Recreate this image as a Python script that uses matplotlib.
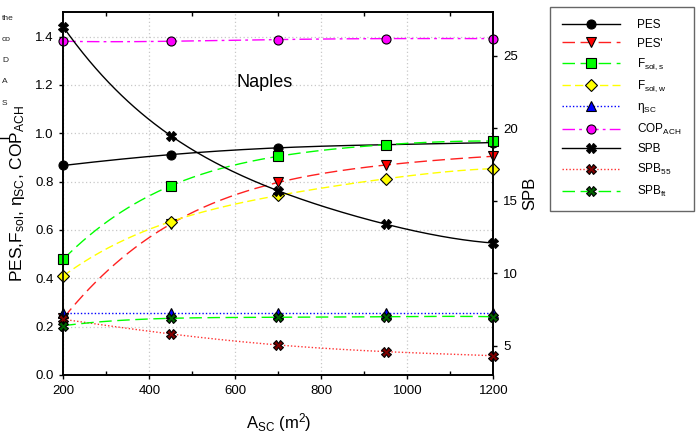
import numpy as np
import matplotlib
matplotlib.use('Agg')
import matplotlib.pyplot as plt
from matplotlib.lines import Line2D
from matplotlib.ticker import MultipleLocator

plt.rcParams['font.family'] = ['Liberation Sans', 'DejaVu Sans']
plt.rcParams['mathtext.fontset'] = 'custom'
plt.rcParams['mathtext.rm'] = 'Liberation Sans'
plt.rcParams['mathtext.it'] = 'Liberation Sans:italic'

# collector area (m2)
a_sc = np.array([200, 450, 700, 950, 1200])

# left axis series
pes = [0.867, 0.912, 0.940, 0.953, 0.962]
pes_p = [0.235, 0.625, 0.797, 0.869, 0.905]
fsol_s = [0.479, 0.783, 0.905, 0.953, 0.968]
fsol_w = [0.410, 0.635, 0.743, 0.812, 0.854]
eta_sc = [0.257, 0.257, 0.257, 0.257, 0.257]
cop_ach = [1.381, 1.381, 1.388, 1.392, 1.392]

# right axis series (years)
spb = [27.0, 19.5, 15.7, 13.4, 12.1]
spb55 = [6.84, 5.83, 5.07, 4.61, 4.33]
spbft = [6.40, 6.91, 6.98, 7.02, 7.02]

labels = ['PES', "PES'", r'F$_{\rm sol,s}$', r'F$_{\rm sol,w}$', r'η$_{\rm SC}$',
          r'COP$_{\rm ACH}$', 'SPB', r'SPB$_{55}$', r'SPB$_{\rm ft}$']

# bits of the neighbouring panel's legend, cut by the left edge
edge_bits = ['the', 'co', 'D', 'A', 'S']


def smooth(x, y):
    # smooth line through the points, only for drawing
    p = np.polynomial.Polynomial.fit(x, y, len(x) - 1)
    xs = np.linspace(x[0], x[-1], 200)
    return xs, p(xs)


fig = plt.figure(figsize=(6.99, 4.37), dpi=100)
ax = fig.add_axes([0.0906, 0.1419, 0.6151, 0.8295])
ax2 = ax.twinx()

styles = [
    (ax, pes, '-', 'black', 'o', 'black', 'black'),
    (ax, pes_p, (0, (9, 4)), '#ff2020', 'v', '#ff0000', 'black'),
    (ax, fsol_s, (0, (9, 4)), '#00ff00', 's', '#00ff00', 'black'),
    (ax, fsol_w, (0, (6, 3)), '#ffff00', 'D', '#ffff00', 'black'),
    (ax, eta_sc, (0, (1, 1.5)), '#0000ff', '^', '#0000ff', 'black'),
    (ax, cop_ach, (0, (9, 3, 2, 3)), '#ff00ff', 'o', '#ff00ff', 'black'),
    (ax2, spb, '-', 'black', 'X', 'black', 'black'),
    (ax2, spb55, (0, (1, 1.5)), '#ff3030', 'X', '#800000', 'black'),
    (ax2, spbft, (0, (9, 4)), '#00ff00', 'X', '#006400', 'black'),
]

handles = []
for (a, ys, ls, col, mk, mfc, mec), lab in zip(styles, labels):
    xs, yy = smooth(a_sc, ys)
    a.plot(xs, yy, linestyle=ls, color=col, lw=1.0, zorder=2)
    ms = 6.5 if mk != 'X' else 7
    a.plot(a_sc, ys, linestyle='none', marker=mk, ms=ms, mfc=mfc, mec=mec,
           mew=0.8, zorder=3, clip_on=False)
    handles.append(Line2D([], [], linestyle=ls, color=col, lw=1.0, marker=mk,
                          ms=ms, mfc=mfc, mec=mec, mew=0.8))

ax.set_xlim(200, 1200)
ax.set_ylim(0, 1.5)
ax2.set_ylim(3, 28)

ax.xaxis.set_major_locator(MultipleLocator(200))
ax.xaxis.set_minor_locator(MultipleLocator(100))
ax.set_yticks(np.arange(0, 1.41, 0.2))
ax.set_yticklabels(['%.1f' % v for v in np.arange(0, 1.41, 0.2)])
ax2.set_yticks([5, 10, 15, 20, 25])

ax.grid(True, which='major', color='#c8c8c8', linestyle=(0, (1, 2)), lw=0.9)
ax.tick_params(which='major', direction='out', length=3, width=1, labelsize=9.5, pad=4)
ax.tick_params(which='minor', axis='x', direction='in', length=3, width=1, top=True)
ax.tick_params(which='minor', axis='y', left=False)
ax2.tick_params(direction='out', length=3, width=1, labelsize=9.5, pad=4)

for s in list(ax.spines.values()) + list(ax2.spines.values()):
    s.set_linewidth(1.2)

ax.set_xlabel(r'A$_{\rm SC}$ (m$^2$)', fontsize=12, labelpad=10)
ax.set_ylabel(r'PES,F$_{\rm sol}$, η$_{\rm SC}$, COP$_{\rm ACH}$', fontsize=12.5, labelpad=6)
ax2.set_ylabel('SPB', fontsize=12, labelpad=3)

ax.text(669, 1.21, 'Naples', fontsize=13, ha='center', va='center')

leg = fig.legend(handles, labels, loc='upper left', bbox_to_anchor=(0.787, 0.984),
                 frameon=True, fancybox=False, fontsize=8.5, handlelength=4.9,
                 labelspacing=0.57, borderpad=1.0, handletextpad=1.5, borderaxespad=0)
leg.get_frame().set_edgecolor('#404040')
leg.get_frame().set_linewidth(1.0)

for i, sub in enumerate(edge_bits):
    fig.text(2 / 699, 1 - (18 + 21.3 * i) / 437, sub, fontsize=6, va='center',
             color='#222222')
fig.add_artist(Line2D([0, 8 / 699], [1 - 138 / 437, 1 - 138 / 437], color='black', lw=1))

fig.savefig('out.png', dpi=100)
